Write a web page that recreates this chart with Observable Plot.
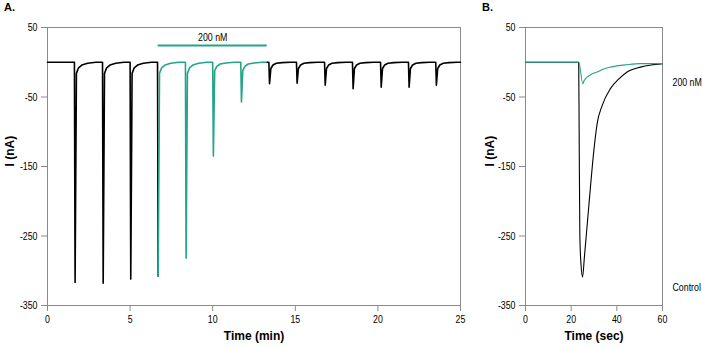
<!DOCTYPE html>
<html><head><meta charset="utf-8">
<script src="https://cdn.jsdelivr.net/npm/d3@7"></script>
<script src="https://cdn.jsdelivr.net/npm/@observablehq/plot@0.6"></script>
<style>
body{margin:0;background:#fff;}
#wrap{position:relative;width:702px;height:347px;overflow:hidden;background:#fff;}
.panel{position:absolute;top:0;}
.tag{position:absolute;top:2px;font:bold 11px/11px "Liberation Sans",Arial,sans-serif;color:#000;}
</style></head><body><div id="wrap"></div>
<script>
// ---------- data ----------
const yTicks = [50, -50, -150, -250, -350];
const xTicksA = [0, 5, 10, 15, 20, 25];
const xTicksB = [0, 20, 40, 60];

// Panel A: agonist pulses (time of onset, min) and peak currents (nA)
const pulseTimes = [1.63, 3.33, 5.00, 6.66, 8.35, 10.00, 11.70, 13.40, 15.07, 16.77, 18.46, 20.16, 21.85, 23.50];
const pulsePeaks = [-317, -318, -312, -308, -282, -135, -57, -31, -30, -33, -38, -36, -36, -33];
const pulseKind  = ["big", "big", "big", "big", "big", "mid", "mid", "small", "small", "small", "small", "small", "small", "small"];
// recovery after each pulse: minutes after onset and current (nA)
const recoveryOffsets = [0.12, 0.25, 0.45, 0.80, 1.30];
const recoveryBig   = [-16, -8, -4, -1.5, 0];
const recoveryMid   = [-12, -6, -2.5, -1, 0];
const recoverySmall = [-9, -4, -1.5, -0.5, 0];
const peakOffset = 0.04;
const greenStart = 6.70, greenEnd = 13.30;   // 200 nM application (min)
const barLevel = 24, barTextLevel = 35;

// Panel B: single responses (sec, nA)
const controlT = [0, 23.3, 23.5, 23.8, 24.3, 25.0, 25.8, 27.7, 30.0, 31.4, 33.6, 37.2, 40.9, 44.5, 50.4, 55, 60];
const controlI = [0, 0, -100, -250, -290, -309, -280, -208, -125, -88, -62, -38, -24, -14, -7, -4, -2];
const drugT = [0, 23.35, 25.1, 25.6, 27.0, 29.0, 31.4, 34.0, 37.2, 44.5, 50.4, 60];
const drugI = [0, 0, -31, -27, -21.5, -17, -14, -10, -7, -3.5, -2, -2];
const bLabels = ["200 nM", "Control"];
const bLabelLevels = [-29, -324.5];

// ---------- build ----------
const recMap = {big: recoveryBig, mid: recoveryMid, small: recoverySmall};
const traceA = [{t: 0, I: 0}];
pulseTimes.forEach((t0, i) => {
  traceA.push({t: t0 - 0.1, I: 0});
  traceA.push({t: t0, I: 0});
  traceA.push({t: t0 + peakOffset, I: pulsePeaks[i]});
  recoveryOffsets.forEach((o, j) => traceA.push({t: t0 + o, I: recMap[pulseKind[i]][j]}));
});
traceA.push({t: 25, I: 0});
const eps = 1e-6;
const black1 = traceA.filter(p => p.t <= greenStart + eps);
const green = traceA.filter(p => p.t >= greenStart - eps && p.t <= greenEnd + eps);
const black2 = traceA.filter(p => p.t >= greenEnd - eps);
const control = controlT.map((t, i) => ({t, I: controlI[i]}));
const drug = drugT.map((t, i) => ({t, I: drugI[i]}));

const GREEN = "#24a488";
const GRAY = "#8a8a8a";
const FONT = '"Liberation Sans",Arial,sans-serif';
const TITLEFONT = '"Liberation Sans",Arial,sans-serif';

function axes(xt) {
  return [
    Plot.frame({stroke: GRAY}),
    Plot.axisY({ticks: yTicks, tickSize: 6, tickPadding: 4, stroke: GRAY, label: null, tickFormat: d => d}),
    Plot.axisX({ticks: xt, tickSize: 6, tickPadding: 4, stroke: GRAY, label: null, tickFormat: d => d})
  ];
}
function titles(xlabel, ydx) {
  return [
    Plot.text([xlabel], {frameAnchor: "bottom", dy: 34, text: d => d, fontWeight: "bold", fontSize: 12, fontFamily: TITLEFONT}),
    Plot.text(["I (nA)"], {frameAnchor: "left", dx: ydx, rotate: -90, text: d => d, fontWeight: "bold", fontSize: 12, fontFamily: TITLEFONT})
  ];
}
const style = {fontFamily: FONT, fontSize: "11px", color: "#000", background: "transparent", overflow: "visible"};

const A = Plot.plot({
  width: 470, height: 347,
  marginLeft: 47, marginRight: 10, marginTop: 27, marginBottom: 42,
  x: {domain: [0, 25]}, y: {domain: [-350, 50]},
  style,
  marks: [
    ...axes(xTicksA),
    ...titles("Time (min)", -37),
    Plot.ruleY([{y: barLevel, x1: greenStart, x2: greenEnd}], {y: "y", x1: "x1", x2: "x2", stroke: GREEN, strokeWidth: 2}),
    Plot.text([{y: barTextLevel, x: (greenStart + greenEnd) / 2, s: "200 nM"}], {x: "x", y: "y", text: "s", fontSize: 11}),
    Plot.line(black1, {x: "t", y: "I", stroke: "#000", strokeWidth: 1.6}),
    Plot.line(green, {x: "t", y: "I", stroke: GREEN, strokeWidth: 1.6}),
    Plot.line(black2, {x: "t", y: "I", stroke: "#000", strokeWidth: 1.6})
  ]
});

const B = Plot.plot({
  width: 222, height: 347,
  marginLeft: 45, marginRight: 40, marginTop: 27, marginBottom: 42,
  x: {domain: [0, 60]}, y: {domain: [-350, 50]},
  style,
  marks: [
    ...axes(xTicksB),
    ...titles("Time (sec)", -35),
    Plot.line(control, {x: "t", y: "I", stroke: "#000", strokeWidth: 1.1, curve: "monotone-x"}),
    Plot.line(drug, {x: "t", y: "I", stroke: GREEN, strokeWidth: 1.1, curve: "monotone-x"}),
    Plot.text(bLabels, {x: () => 60, y: (d, i) => bLabelLevels[i], text: d => d, dx: 10, textAnchor: "start", fontSize: 11})
  ]
});

// condense the non-bold texts (the reference uses a narrow face)
for (const svg of [A, B]) {
  svg.querySelectorAll("text").forEach(t => {
    const g = t.closest("g");
    if (g && g.getAttribute("font-weight") === "bold") return;
    if (t.getAttribute("font-weight") === "bold") return;
    const x = parseFloat(t.getAttribute("x")) || 0;
    const tr = t.getAttribute("transform") || "";
    t.setAttribute("transform", `${tr} translate(${x},0) scale(0.8,1) translate(${-x},0)`);
  });
}

const wrap = document.getElementById("wrap");
A.classList.add("panel"); A.style.left = "0px";
B.classList.add("panel"); B.style.left = "480px";
wrap.appendChild(A); wrap.appendChild(B);
for (const [txt, left] of [["A.", 4], ["B.", 482]]) {
  const d = document.createElement("div");
  d.className = "tag"; d.textContent = txt; d.style.left = left + "px";
  wrap.appendChild(d);
}
</script>
</body></html>
